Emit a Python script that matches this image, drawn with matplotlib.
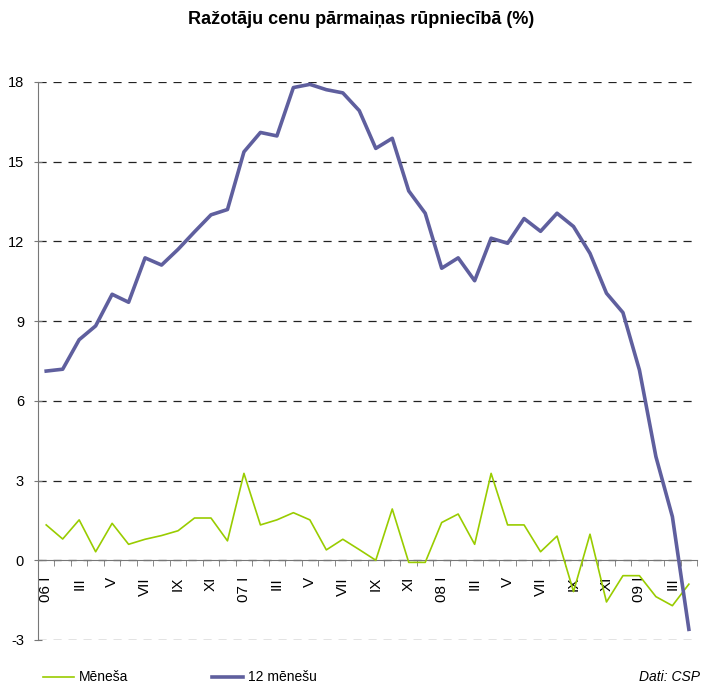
import numpy as np
import matplotlib
matplotlib.use('Agg')
import matplotlib.pyplot as plt
from matplotlib.lines import Line2D

plt.rcParams['font.family'] = ['Liberation Sans', 'DejaVu Sans']
plt.rcParams['axes.unicode_minus'] = False

# Jan 2006 .. Apr 2009, monthly
months = ['I', 'II', 'III', 'IV', 'V', 'VI', 'VII', 'VIII', 'IX', 'X', 'XI', 'XII']
years = ['06', '07', '08', '09']
n = 40

menesa = [1.33, 0.80, 1.52, 0.32, 1.39, 0.60, 0.79, 0.93, 1.11, 1.59,
          1.59, 0.73, 3.27, 1.33, 1.52, 1.79, 1.52, 0.39, 0.79, 0.40,
          0.00, 1.93, -0.08, -0.08, 1.42, 1.74, 0.60, 3.27, 1.33, 1.33,
          0.32, 0.91, -1.18, 0.98, -1.57, -0.58, -0.58, -1.37, -1.71, -0.90]
men12 = [7.12, 7.19, 8.30, 8.82, 10.01, 9.71, 11.38, 11.11, 11.70, 12.36,
         13.00, 13.20, 15.37, 16.10, 15.97, 17.79, 17.91, 17.71, 17.59, 16.92,
         15.50, 15.88, 13.90, 13.06, 10.99, 11.38, 10.52, 12.12, 11.93, 12.86,
         12.38, 13.06, 12.56, 11.55, 10.05, 9.32, 7.16, 3.90, 1.64, -2.60]

labels = []
for i in range(n):
    m = months[i % 12]
    if i % 12 == 0:
        m = years[i // 12] + ' ' + m
    labels.append(m)

green = '#99cc00'
blue = '#5f5f9e'

fig = plt.figure(figsize=(7.07, 6.86), dpi=100)
ax = fig.add_axes([0.0537, 0.0671, 0.9323, 0.8134])
x = np.arange(n)
ax.plot(x, menesa, color=green, lw=1.2, zorder=3)
ax.plot(x, men12, color=blue, lw=2.6, zorder=4)

ax.set_xlim(-0.5, n - 0.5)
ax.set_ylim(-3, 18)
ax.set_yticks(np.arange(-3, 19, 3))
ax.yaxis.grid(True, color='#222222', ls=(0, (6.5, 5.5)), lw=0.9)
ax.set_axisbelow(True)

for s in ['top', 'right']:
    ax.spines[s].set_visible(False)
ax.spines['left'].set_color('#777777')
ax.spines['bottom'].set_color('#777777')
ax.spines['bottom'].set_position(('data', 0))
ax.spines['bottom'].set_zorder(2)

ax.set_xticks(x[::2])
ax.set_xticklabels(labels[::2], rotation=90, fontsize=11)
ax.set_xticks(np.arange(-0.5, n, 1), minor=True)
ax.tick_params(axis='x', which='major', length=0, pad=12)
ax.tick_params(axis='x', which='minor', length=4, color='#777777', direction='out')
ax.tick_params(axis='y', length=6, color='#777777', direction='inout', labelsize=10.5, pad=7)

fig.text(0.511, 0.971, 'Ražotāju cenu pārmaiņas rūpniecībā (%)', ha='center', va='center',
         fontsize=13, fontweight='bold')

handles = [Line2D([], [], color=green, lw=1.2), Line2D([], [], color=blue, lw=2.6)]
fig.legend(handles, ['Mēneša', '12 mēnešu'], loc='lower left', bbox_to_anchor=(0.043, -0.016),
           ncol=2, frameon=False, fontsize=10, handlelength=2.23, handletextpad=0.36,
           columnspacing=6.0)
fig.text(0.99, 0.003, 'Dati: CSP', ha='right', va='bottom', fontsize=10, style='italic')

fig.savefig('out.png', dpi=100)
